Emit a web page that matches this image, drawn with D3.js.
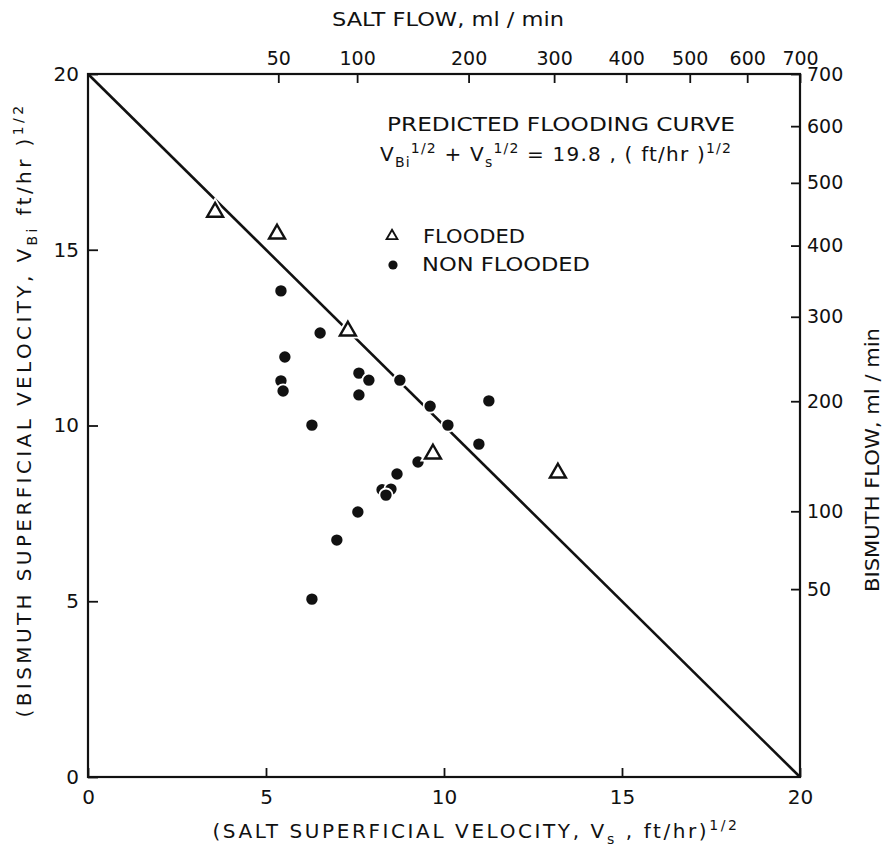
<!DOCTYPE html>
<html>
<head>
<meta charset="utf-8">
<script src="https://cdn.jsdelivr.net/npm/d3@7"></script>
<style>
  html, body { margin: 0; padding: 0; background: #fff; }
  svg { display: block; }
  text { font-family: "DejaVu Sans", "Liberation Sans", sans-serif; fill: #111; }
</style>
</head>
<body>
<svg id="chart" width="889" height="848"></svg>
<script>
// ---- data ----
const xTicks = [0, 5, 10, 15, 20];
const yTicks = [0, 5, 10, 15, 20];
const saltFlowTicks = [50, 100, 200, 300, 400, 500, 600, 700];
const bismuthFlowTicks = [50, 100, 200, 300, 400, 500, 600, 700];

// flooded (triangles): [salt sqrt velocity, bismuth sqrt velocity]
const floodedX = [3.57, 5.31, 7.30, 9.69, 13.20];
const floodedY = [16.07, 15.45, 12.69, 9.19, 8.65];

// non flooded (dots)
const nonFloodedX = [5.42, 6.52, 5.53, 5.42, 5.48, 7.61, 7.89, 7.61, 8.76, 9.61, 6.29,
                     10.11, 11.26, 10.98, 9.27, 8.68, 8.26, 8.51, 8.37, 7.58, 6.99, 6.29];
const nonFloodedY = [13.83, 12.63, 11.95, 11.27, 10.98, 11.49, 11.29, 10.87, 11.29, 10.55, 10.01,
                     10.01, 10.70, 9.47, 8.96, 8.62, 8.17, 8.19, 8.02, 7.54, 6.74, 5.06];

// predicted flooding curve endpoints
const curveX = [0, 20];
const curveY = [20, 0];

// ---- layout ----
const svg = d3.select("#chart");
const L = 88, R = 800, T = 74, B = 777;

const x = d3.scaleLinear().domain([0, 20]).range([L, R]);
const y = d3.scaleLinear().domain([0, 20]).range([B, T]);
const xTop = d3.scaleSqrt().domain([0, 700]).range([L, R]);
const yRight = d3.scaleSqrt().domain([0, 700]).range([B, T]);

function styleAxis(g, size) {
  g.select(".domain").remove();
  g.selectAll(".tick line").attr("stroke", "#111").attr("stroke-width", 1.8);
  g.selectAll(".tick text").attr("font-size", size).attr("fill", "#111")
    .attr("font-family", "DejaVu Sans, sans-serif");
}

// bottom axis
svg.append("g").attr("transform", `translate(0,${B})`)
  .call(d3.axisBottom(x).tickValues(xTicks).tickSize(-9).tickPadding(13).tickFormat(d3.format("d")))
  .call(g => styleAxis(g, 20));
// left axis
svg.append("g").attr("transform", `translate(${L},0)`)
  .call(d3.axisLeft(y).tickValues(yTicks).tickSize(-10).tickPadding(9).tickFormat(d3.format("d")))
  .call(g => styleAxis(g, 20));
// top axis
svg.append("g").attr("transform", `translate(0,${T})`)
  .call(d3.axisTop(xTop).tickValues(saltFlowTicks).tickSize(-9).tickPadding(9).tickFormat(d3.format("d")))
  .call(g => styleAxis(g, 19));
// right axis
svg.append("g").attr("transform", `translate(${R},0)`)
  .call(d3.axisRight(yRight).tickValues(bismuthFlowTicks).tickSize(-9).tickPadding(7).tickFormat(d3.format("d")))
  .call(g => styleAxis(g, 19));

// frame
svg.append("rect").attr("x", L).attr("y", T).attr("width", R - L).attr("height", B - T)
  .attr("fill", "none").attr("stroke", "#111").attr("stroke-width", 2.2);

// flooding curve
svg.append("line")
  .attr("x1", x(curveX[0])).attr("y1", y(curveY[0]))
  .attr("x2", x(curveX[1])).attr("y2", y(curveY[1]))
  .attr("stroke", "#111").attr("stroke-width", 2.6);

// markers
const tri = d3.symbol().type(d3.symbolTriangle).size(110);
const flooded = floodedX.map((v, i) => [v, floodedY[i]]);
const nonFlooded = nonFloodedX.map((v, i) => [v, nonFloodedY[i]]);

svg.append("g").selectAll("circle").data(nonFlooded).join("circle")
  .attr("cx", d => x(d[0])).attr("cy", d => y(d[1])).attr("r", 6.6)
  .attr("fill", "#111").attr("stroke", "#fff").attr("stroke-width", 1.8);

const tg = svg.append("g");
tg.selectAll("path.halo").data(flooded).join("path").attr("class", "halo")
  .attr("d", tri).attr("transform", d => `translate(${x(d[0])},${y(d[1])})`)
  .attr("fill", "#fff").attr("stroke", "#fff").attr("stroke-width", 6);
tg.selectAll("path.mk").data(flooded).join("path").attr("class", "mk")
  .attr("d", tri).attr("transform", d => `translate(${x(d[0])},${y(d[1])})`)
  .attr("fill", "#fff").attr("stroke", "#111").attr("stroke-width", 2.4);

// rich text helper
function rich(sel, parts, fs) {
  let shift = 0;
  parts.forEach(p => {
    const mode = p[1] || "n";
    const target = mode === "sub" ? 0.3 * fs : mode === "sup" ? -0.42 * fs : 0;
    sel.append("tspan")
      .attr("dy", target - shift)
      .attr("font-size", mode === "n" ? fs : fs * 0.7)
      .text(p[0]);
    shift = target;
  });
}

// top title
svg.append("text").attr("x", 448).attr("y", 26).attr("text-anchor", "middle")
  .attr("font-size", 20).attr("textLength", 232).attr("lengthAdjust", "spacingAndGlyphs")
  .text("SALT FLOW, ml / min");

// bottom title
const bt = svg.append("text").attr("x", 476).attr("y", 838).attr("text-anchor", "middle")
  .attr("letter-spacing", 2.6);
rich(bt, [["(SALT SUPERFICIAL VELOCITY, V"], ["s", "sub"], [" , ft/hr)"], ["1/2", "sup"]], 20);

// left title
const lt = svg.append("text").attr("transform", "translate(31,410) rotate(-90)")
  .attr("text-anchor", "middle").attr("letter-spacing", 3.4);
rich(lt, [["(BISMUTH SUPERFICIAL VELOCITY, V"], ["Bi", "sub"], [" ft/hr )"], ["1/2", "sup"]], 20);

// right title
svg.append("text").attr("transform", "translate(879,460) rotate(-90)")
  .attr("text-anchor", "middle").attr("font-size", 19)
  .attr("textLength", 264).attr("lengthAdjust", "spacingAndGlyphs")
  .text("BISMUTH FLOW, ml / min");

// annotation
svg.append("text").attr("x", 387).attr("y", 131)
  .attr("font-size", 20).attr("textLength", 348).attr("lengthAdjust", "spacingAndGlyphs")
  .text("PREDICTED FLOODING CURVE");
const eq = svg.append("text").attr("x", 380).attr("y", 161).attr("letter-spacing", 1.2);
rich(eq, [["V"], ["Bi", "sub"], ["1/2", "sup"], [" + V"], ["s", "sub"], ["1/2", "sup"],
          [" = 19.8 , ( ft/hr )"], ["1/2", "sup"]], 20);

// legend
const lg = svg.append("g");
lg.append("path").attr("d", d3.symbol().type(d3.symbolTriangle).size(50)())
  .attr("transform", "translate(392,236)").attr("fill", "#fff").attr("stroke", "#111").attr("stroke-width", 1.9);
lg.append("circle").attr("cx", 393).attr("cy", 265).attr("r", 4.6).attr("fill", "#111");
lg.append("text").attr("x", 423).attr("y", 243).attr("font-size", 19)
  .attr("textLength", 102).attr("lengthAdjust", "spacingAndGlyphs").text("FLOODED");
lg.append("text").attr("x", 422).attr("y", 271).attr("font-size", 19)
  .attr("textLength", 168).attr("lengthAdjust", "spacingAndGlyphs").text("NON FLOODED");
</script>
</body>
</html>
